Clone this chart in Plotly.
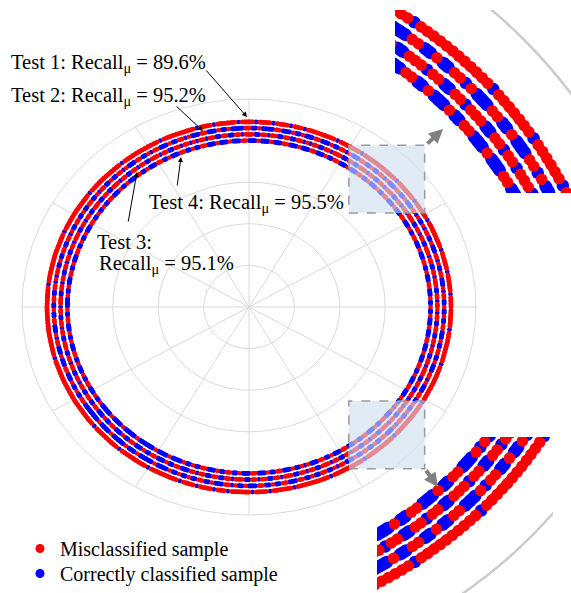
import numpy as np
import plotly.graph_objects as go

W, H = 571, 593

# ---------------- data ----------------
tests = ["Test 1", "Test 2", "Test 3", "Test 4"]
recall = [89.6, 95.2, 95.1, 95.5]
ring_radius = [4.45, 4.30, 4.15, 4.00]

# one character per sample, one sample per degree (0 deg = east, counter-clockwise)
# '1' = misclassified sample, '0' = correctly classified sample
labels_test1 = (
    "111101 111110 111111 011111 111101 111110"
    "111111 101111 111111 110111 111101 111111"
    "110111 011110 111101 111011 111101 111011"
    "111111 110111 111111 111011 111111 111101"
    "111111 111111 011111 111111 111110 111111"
    "111111 111111 111101 111111 111111 111111"
    "111101 111111 110111 111111 011111 111101"
    "111011 110111 011111 101111 011111 101111"
    "111111 011111 111110 111111 111101 111111"
    "111110 111111 111111 011111 111110 111111"
)
labels_test2 = (
    "100110 100011 001011 000100 110100 101100"
    "010011 000101 100100 110001 011001 000110"
    "001001 000110 000100 110000 100100 011000"
    "101100 100011 010011 000101 100100 110100"
    "110010 011001 011001 100100 110101 100110"
    "010011 000101 100010 001100 010010 011000"
    "000010 000100 000100 010000 010000 100100"
    "100110 010001 101001 000110 010011 000110"
    "010011 001011 000100 110010 011000 101100"
    "100100 110001 011000 100110 010001 100100"
)
labels_test3 = (
    "110110 011101 100110 111001 101100 111011"
    "011001 110110 011011 100110 011101 100110"
    "101100 110011 011001 110110 011001 101101"
    "011011 001101 110011 011001 101110 011001"
    "110011 011001 110110 011011 001101 100111"
    "011001 101100 111001 101100 110110 011001"
    "100010 011000 100110 001001 100010 011000"
    "110110 011001 101110 011011 001101 110011"
    "011001 110110 011011 001101 100111 011001"
    "101101 100110 011101 100110 110011 001101"
)
labels_test4 = (
    "100100 011000 100110 001000 110010 001100"
    "010001 100100 010011 000100 011001 000110"
    "001000 110001 000100 011000 100010 001100"
    "100110 001001 100010 011000 100100 011001"
    "001001 100010 010011 000100 110001 001000"
    "010011 000100 100011 001000 100110 001001"
    "000001 000010 000010 000001 000010 000100"
    "100110 001001 100100 011000 100110 001001"
    "010001 100100 011000 100110 001001 100010"
    "100100 011000 100110 001000 110001 000100"
)
ring_labels = [s.replace(" ", "") for s in (labels_test1, labels_test2, labels_test3, labels_test4)]

grid_radii = [1, 2, 3, 4, 5]
spoke_angles = list(range(0, 360, 30))

legend_names = ["Misclassified sample", "Correctly classified sample"]
RED, BLUE = "#ff0000", "#0000ff"


def px_x(p):
    return p / W


def px_y(p):
    return 1 - p / H


def runs_xy(xs, ys, mask):
    """Consecutive samples of the same class joined, runs separated by None."""
    X, Y = [], []
    prev = False
    for xv, yv, m in zip(xs, ys, mask):
        if m:
            X.append(float(xv))
            Y.append(float(yv))
        elif prev:
            X.append(None)
            Y.append(None)
        prev = m
    return X, Y


fig = go.Figure()

panels = [
    dict(xa="x", ya="y", band=4.8, dot=4.6, red_line=4.6),
    dict(xa="x2", ya="y2", band=12.5, dot=11.5, red_line=9),
    dict(xa="x3", ya="y3", band=12.5, dot=11.5, red_line=9),
]

for pnl in panels:
    for r, lab in zip(ring_radius, ring_labels):
        n = len(lab)
        flags = np.array([c == "1" for c in lab])
        theta = np.deg2rad(np.arange(n) * 360.0 / n)
        xs = r * np.cos(theta)
        ys = r * np.sin(theta)
        bx, by = runs_xy(xs, ys, ~flags)
        rx, ry = runs_xy(xs, ys, flags)
        fig.add_trace(go.Scatter(
            x=bx, y=by, mode="lines+markers",
            line=dict(color=BLUE, width=pnl["band"]),
            marker=dict(color=BLUE, size=pnl["band"], line=dict(width=0)),
            xaxis=pnl["xa"], yaxis=pnl["ya"], showlegend=False, hoverinfo="skip"))
        fig.add_trace(go.Scatter(
            x=rx, y=ry, mode="lines+markers",
            line=dict(color=RED, width=pnl["red_line"]),
            marker=dict(color=RED, size=pnl["dot"], line=dict(width=0)),
            xaxis=pnl["xa"], yaxis=pnl["ya"], showlegend=False, hoverinfo="skip"))

# legend-only entries (two legends so the rows can sit exactly)
fig.add_trace(go.Scatter(x=[None], y=[None], mode="markers", name=legend_names[0],
                         marker=dict(color=RED, size=9), showlegend=True, legend="legend"))
fig.add_trace(go.Scatter(x=[None], y=[None], mode="markers", name=legend_names[1],
                         marker=dict(color=BLUE, size=9), showlegend=True, legend="legend2"))

shapes = []
GRID = "#d9d9d9"
for r in grid_radii:
    shapes.append(dict(type="circle", xref="x", yref="y", x0=-r, x1=r, y0=-r, y1=r,
                       line=dict(color=GRID, width=1), layer="below"))
rmax = grid_radii[-1]
for a in spoke_angles:
    shapes.append(dict(type="line", xref="x", yref="y", x0=0, y0=0,
                       x1=rmax * np.cos(np.deg2rad(a)), y1=rmax * np.sin(np.deg2rad(a)),
                       line=dict(color=GRID, width=1), layer="below"))
for xa, ya in [("x2", "y2"), ("x3", "y3")]:
    shapes.append(dict(type="circle", xref=xa, yref=ya, x0=-rmax, x1=rmax, y0=-rmax, y1=rmax,
                       line=dict(color="#cccccc", width=2.5), layer="below"))
# zoom boxes on the main chart
for y0, y1 in [(2.26, 3.89), (-3.89, -2.26)]:
    shapes.append(dict(type="rect", xref="x", yref="y", x0=2.2, x1=3.87, y0=y0, y1=y1,
                       fillcolor="rgba(205,222,240,0.62)",
                       line=dict(color="#9a9a9a", width=1.5, dash="dash"), layer="above"))

FONT = "Liberation Serif, Times New Roman, serif"
annotations = []


def text_ann(txt, xp, yp):
    annotations.append(dict(text=txt, x=px_x(xp), y=px_y(yp), xref="paper", yref="paper",
                            xanchor="left", yanchor="middle", showarrow=False,
                            font=dict(family=FONT, size=20.5, color="black"), align="left"))


def fmt(v):
    return f"Recall<sub>μ</sub> = {v:.1f}%"


text_ann(f"{tests[0]}: " + fmt(recall[0]), 9, 63)
text_ann(f"{tests[1]}: " + fmt(recall[1]), 9, 96)
text_ann(f"{tests[3]}: " + fmt(recall[3]), 147, 203)
text_ann(f"{tests[2]}:", 95, 242)
text_ann(fmt(recall[2]), 97, 265)


def arrow(tail, head, color="black", width=1, head_style=2, size=1.0):
    annotations.append(dict(text="", x=px_x(head[0]), y=px_y(head[1]), xref="paper", yref="paper",
                            ax=tail[0] - head[0], ay=tail[1] - head[1], axref="pixel", ayref="pixel",
                            showarrow=True, arrowhead=head_style, arrowsize=size,
                            arrowwidth=width, arrowcolor=color))


arrow((205, 69), (247, 117))
arrow((175, 105), (203, 131))
arrow((177, 187), (181, 157))
arrow((128, 223), (137, 172))
arrow((426, 145), (443, 129), color="#808080", width=4, size=0.7)
arrow((425, 469), (438, 487), color="#808080", width=4, size=0.7)

hidden = dict(visible=False, showgrid=False, zeroline=False, fixedrange=True)
leg_common = dict(xanchor="left", yanchor="top",
                  font=dict(family=FONT, size=20, color="black"),
                  bgcolor="rgba(0,0,0,0)")

fig.update_layout(
    width=W, height=H,
    margin=dict(l=0, r=0, t=0, b=0),
    paper_bgcolor="white", plot_bgcolor="rgba(0,0,0,0)",
    shapes=shapes, annotations=annotations,
    xaxis=dict(domain=[px_x(8.4), px_x(489.6)], range=[-5.3, 5.3], **hidden),
    yaxis=dict(domain=[px_y(527.5), px_y(86.5)], range=[-5.3, 5.3], **hidden),
    xaxis2=dict(domain=[px_x(395), 1.0], range=[2.3, 4.009], anchor="y2", **hidden),
    yaxis2=dict(domain=[px_y(193), px_y(10)], range=[2.016, 3.81], anchor="x2", **hidden),
    xaxis3=dict(domain=[px_x(377), px_x(553)], range=[2.18, 3.905], anchor="y3", **hidden),
    yaxis3=dict(domain=[0.0, px_y(437)], range=[-3.98, -2.3], anchor="x3", **hidden),
    showlegend=True,
    legend=dict(x=px_x(20), y=px_y(529), **leg_common),
    legend2=dict(x=px_x(20), y=px_y(554), **leg_common),
)

fig.write_html("out.html")
